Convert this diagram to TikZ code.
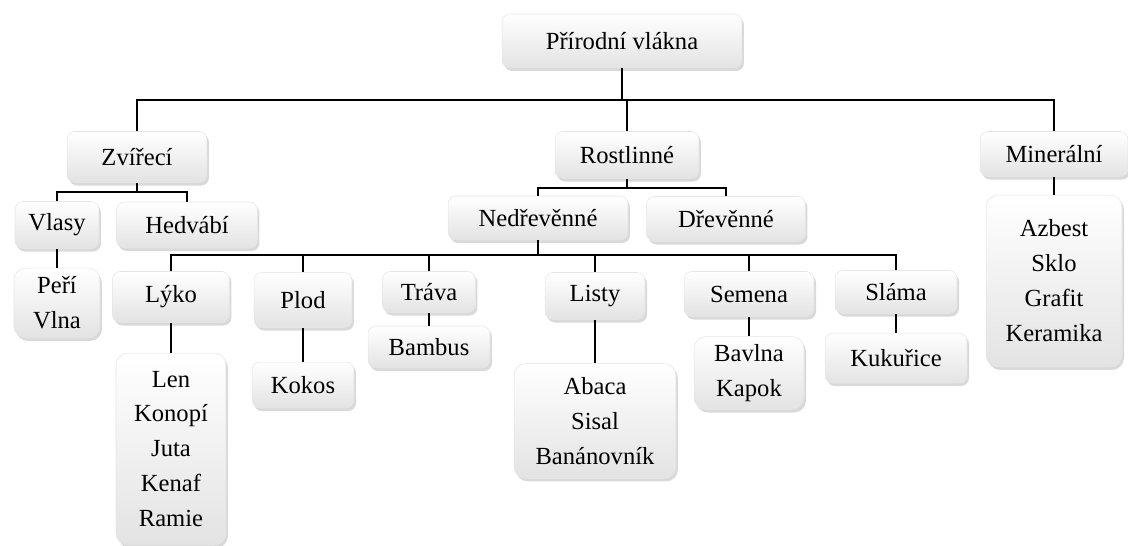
\documentclass[tikz,border=0pt]{standalone}
\usepackage{fontspec}
\setmainfont{Liberation Serif}
\usepackage{tikz}
\usetikzlibrary{shadows}
\usetikzlibrary{shadings}

\begin{document}
\begin{tikzpicture}[x=0.02cm, y=-0.02cm,
  box/.style={rounded corners=0.16cm, top color=white, bottom color=gray!22,
    draw=gray!20, line width=0.3pt, align=center, inner sep=0pt,
    drop shadow={shadow xshift=0.04cm, shadow yshift=-0.06cm, opacity=0.3, fill=gray},
    font=\fontsize{14}{19.9}\selectfont},
  listbox/.style={box, rounded corners=0.24cm},
  conn/.style={draw, black, line width=1.1pt}]
 \useasboundingbox (0,0) rectangle (1128,545);

 %bus lines
 \coordinate (busA) at (0,100);
 \coordinate (busZ) at (0,192);
 \coordinate (busR) at (0,188);
 \coordinate (busN) at (0,255);

 %l1
 \node[box, minimum width=4.8cm, minimum height=1.08cm] (root) at (622,41) {Přírodní vlákna};

 %l2
 \node[box, minimum width=2.8cm, minimum height=1.02cm] (zvir) at (137,157) {Zvířecí};
 \node[box, minimum width=2.88cm, minimum height=0.94cm] (rost) at (627,155) {Rostlinné};
 \node[box, minimum width=2.96cm, minimum height=0.9cm] (minr) at (1054,154) {Minerální};

 %l3
 \node[box, minimum width=1.68cm, minimum height=0.94cm] (vlas) at (57,225) {Vlasy};
 \node[box, minimum width=2.82cm, minimum height=0.92cm] (hedv) at (187,225) {Hedvábí};
 \node[box, minimum width=3.6cm, minimum height=0.88cm] (nedr) at (538,218) {Nedřevěnné};
 \node[box, minimum width=3.18cm, minimum height=0.9cm] (drev) at (726,219) {Dřevěnné};
 \node[listbox, minimum width=2.72cm, minimum height=3.44cm] (azbe) at (1054,281) {Azbest\\Sklo\\Grafit\\Keramika};

 %l4
 \node[listbox, minimum width=1.72cm, minimum height=1.4cm] (pvl) at (57,303) {Peří\\Vlna};
 \node[box, minimum width=2.34cm, minimum height=1.02cm] (lyko) at (171,297) {Lýko};
 \node[box, minimum width=1.96cm, minimum height=1.1cm] (plod) at (303,300) {Plod};
 \node[box, minimum width=1.86cm, minimum height=0.82cm] (trav) at (429,292) {Tráva};
 \node[box, minimum width=2.0cm, minimum height=0.94cm] (list) at (595,296) {Listy};
 \node[box, minimum width=2.6cm, minimum height=0.9cm] (seme) at (749,294) {Semena};
 \node[box, minimum width=2.44cm, minimum height=0.86cm] (slam) at (896,292) {Sláma};

 %l5
 \node[listbox, minimum width=2.2cm, minimum height=3.84cm] (lykoL) at (171,449) {Len\\Konopí\\Juta\\Kenaf\\Ramie};
 \node[box, minimum width=2.04cm, minimum height=0.92cm] (koko) at (303,385) {Kokos};
 \node[box, minimum width=2.44cm, minimum height=0.84cm] (bamb) at (429,347) {Bambus};
 \node[listbox, minimum width=3.24cm, minimum height=2.3cm] (abac) at (595,421) {Abaca\\Sisal\\Banánovník};
 \node[listbox, minimum width=2.2cm, minimum height=1.46cm] (bavl) at (749,373) {Bavlna\\Kapok};
 \node[box, minimum width=2.84cm, minimum height=1.0cm] (kuku) at (896,358) {Kukuřice};

 %lines
 \path[conn] (root.south) -- (root.south |- busA);
 \path[conn] (zvir.north) |- (minr.north |- busA) -- (minr.north);
 \path[conn] (rost.north) -- (rost.north |- busA);

 \path[conn] (zvir.south) -- (zvir.south |- busZ);
 \path[conn] (vlas.north) |- (hedv.north |- busZ) -- (hedv.north);

 \path[conn] (rost.south) -- (rost.south |- busR);
 \path[conn] (nedr.north) |- (drev.north |- busR) -- (drev.north);

 \path[conn] (nedr.south) -- (nedr.south |- busN);
 \path[conn] (lyko.north) |- (slam.north |- busN) -- (slam.north);
 \foreach \n in {plod,trav,list,seme}
   \path[conn] (\n.north) -- (\n.north |- busN);

 \foreach \a/\b in {vlas/pvl, lyko/lykoL, plod/koko, trav/bamb, list/abac, seme/bavl, slam/kuku, minr/azbe}
   \path[conn] (\a.south) -- (\b.north);

\end{tikzpicture}
\end{document}
